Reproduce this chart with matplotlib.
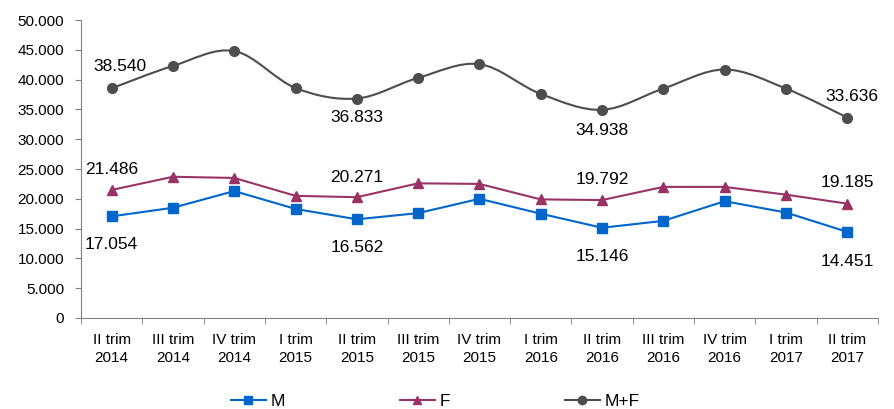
import matplotlib
matplotlib.use("Agg")
import matplotlib.pyplot as plt
import numpy as np
from matplotlib.path import Path
from matplotlib.patches import PathPatch
from matplotlib.lines import Line2D
from matplotlib.ticker import FuncFormatter, MultipleLocator

plt.rcParams['font.family'] = ['Liberation Sans', 'DejaVu Sans']

categories = ["II trim\n2014", "III trim\n2014", "IV trim\n2014", "I trim\n2015", "II trim\n2015",
              "III trim\n2015", "IV trim\n2015", "I trim\n2016", "II trim\n2016", "III trim\n2016",
              "IV trim\n2016", "I trim\n2017", "II trim\n2017"]
m_vals = [17054, 18500, 21300, 18300, 16562, 17600, 20000, 17500, 15146, 16300, 19600, 17700, 14451]
f_vals = [21486, 23700, 23500, 20500, 20271, 22600, 22500, 19900, 19792, 22000, 22000, 20700, 19185]
mf_vals = [38540, 42300, 44800, 38600, 36833, 40300, 42600, 37600, 34938, 38500, 41700, 38500, 33636]
labeled_idx = [0, 4, 8, 12]

c_m = "#0066CC"
c_f = "#993366"
c_mf = "#4D4D4D"

fig = plt.figure(figsize=(8.94, 4.09), dpi=100)
ax = fig.add_axes([0.0906, 0.2225, 0.8914, 0.7285])

x = np.arange(len(categories))

ax.plot(x, m_vals, color=c_m, lw=1.5, marker='s', ms=7, zorder=3)
ax.plot(x, f_vals, color=c_f, lw=1.5, marker='^', ms=7, zorder=3)

# smoothed line for M+F (Bezier rendering through data points)
pts = np.column_stack([x, mf_vals]).astype(float)
verts = [tuple(pts[0])]
codes = [Path.MOVETO]
n = len(pts)
for i in range(n - 1):
    p0 = pts[max(i - 1, 0)]
    p1 = pts[i]
    p2 = pts[i + 1]
    p3 = pts[min(i + 2, n - 1)]
    c1 = p1 + (p2 - p0) / 6.0
    c2 = p2 - (p3 - p1) / 6.0
    verts += [tuple(c1), tuple(c2), tuple(p2)]
    codes += [Path.CURVE4] * 3
ax.add_patch(PathPatch(Path(verts, codes), facecolor='none', edgecolor=c_mf, lw=1.5, zorder=3))
ax.plot(x, mf_vals, color=c_mf, ls='none', marker='o', ms=7, zorder=4)

fs = 12.5
def fmt(v):
    return f"{v:,.0f}".replace(",", ".")

mf_off = {0: (6, 16), 4: (0, -14), 8: (0, -15), 12: (3, 15)}
f_off = {0: (0, 15), 4: (0, 14), 8: (0, 15), 12: (0, 15)}
m_off = {0: (0, -20), 4: (0, -20), 8: (0, -21), 12: (0, -21)}
for i in labeled_idx:
    ax.annotate(fmt(mf_vals[i]), (x[i], mf_vals[i]), xytext=mf_off[i], textcoords='offset points',
                ha='center', va='center', fontsize=fs, color='black')
    ax.annotate(fmt(f_vals[i]), (x[i], f_vals[i]), xytext=f_off[i], textcoords='offset points',
                ha='center', va='center', fontsize=fs, color='black')
    ax.annotate(fmt(m_vals[i]), (x[i], m_vals[i]), xytext=m_off[i], textcoords='offset points',
                ha='center', va='center', fontsize=fs, color='black')

ax.set_xlim(-0.5, len(categories) - 0.5)
ax.set_ylim(0, 50000)
ax.yaxis.set_major_locator(MultipleLocator(5000))
ax.yaxis.set_major_formatter(FuncFormatter(lambda v, p: fmt(v)))
ax.set_xticks(x)
ax.set_xticklabels(categories, fontsize=11, linespacing=1.3)
ax.set_xticks(np.arange(-0.5, len(categories)), minor=True)
ax.tick_params(axis='x', which='major', length=0, pad=11)
ax.tick_params(axis='x', which='minor', length=4, color='#808080', direction='out')
ax.tick_params(axis='y', labelsize=11, length=4, pad=8, color='#808080', direction='out')
for s in ['top', 'right']:
    ax.spines[s].set_visible(False)
for s in ['left', 'bottom']:
    ax.spines[s].set_color('#808080')

handles = [Line2D([], [], color=c_m, lw=1.5, marker='s', ms=6),
           Line2D([], [], color=c_f, lw=1.5, marker='^', ms=6),
           Line2D([], [], color=c_mf, lw=1.5, marker='o', ms=6)]
fig.legend(handles, ["M", "F", "M+F"], loc='center', bbox_to_anchor=(0.487, 0.018), ncol=3,
           frameon=False, fontsize=12.5, handlelength=2.0, columnspacing=6.6, handletextpad=0.3)

fig.savefig("out.png", dpi=100)
